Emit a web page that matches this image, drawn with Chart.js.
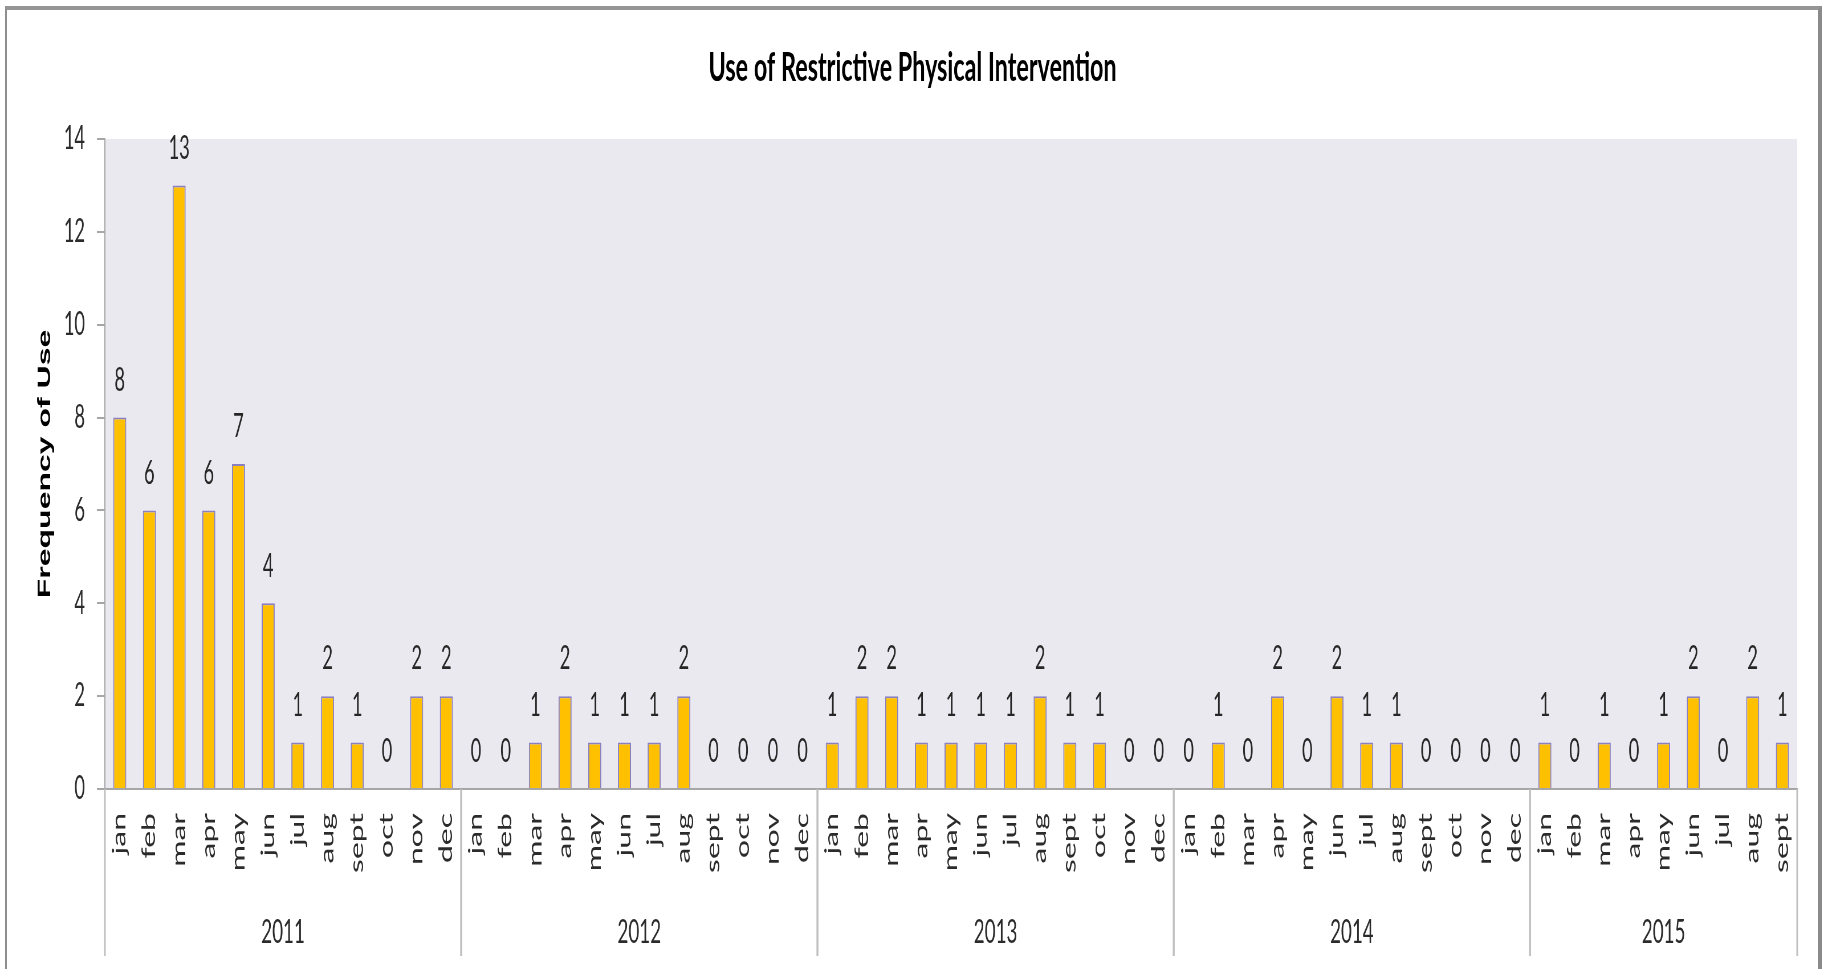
<!DOCTYPE html>
<html>
<head>
<meta charset="utf-8">
<title>Use of Restrictive Physical Intervention</title>
<script src="https://cdn.jsdelivr.net/npm/chart.js@4.4.1/dist/chart.umd.min.js"></script>
<style>
  html, body { margin: 0; padding: 0; background: #ffffff; overflow: hidden; }
  #wrap { position: relative; width: 1825px; height: 969px; overflow: hidden; }
  #c { position: absolute; left: 0; top: 0; transform-origin: 0 0; }
  #frame {
    position: absolute; left: 5px; top: 6px; width: 1817px; height: 975px;
    box-sizing: border-box;
    border-top: 4px solid #959595;
    border-left: 2px solid #8e8e8e;
    border-right: 4px solid #8a8a8a;
    pointer-events: none;
  }
</style>
</head>
<body>
<div id="wrap">
  <canvas id="c"></canvas>
  <div id="frame"></div>
</div>
<script>
// Monthly counts of restrictive physical intervention, Jan 2011 - Sept 2015
const monthNames = ['jan', 'feb', 'mar', 'apr', 'may', 'jun', 'jul', 'aug', 'sept', 'oct', 'nov', 'dec'];
const years = ['2011', '2012', '2013', '2014', '2015'];
const monthsPerYear = [12, 12, 12, 12, 9];

const uses2011 = [8, 6, 13, 6, 7, 4, 1, 2, 1, 0, 2, 2];
const uses2012 = [0, 0, 1, 2, 1, 1, 1, 2, 0, 0, 0, 0];
const uses2013 = [1, 2, 2, 1, 1, 1, 1, 2, 1, 1, 0, 0];
const uses2014 = [0, 1, 0, 2, 0, 2, 1, 1, 0, 0, 0, 0];
const uses2015 = [1, 0, 1, 0, 1, 2, 0, 2, 1];

const yMin = 0, yMax = 14, yStep = 2;

// Flatten into one category axis (month labels) and one value list
const monthLabels = [];
monthsPerYear.forEach(n => { for (let i = 0; i < n; i++) monthLabels.push(monthNames[i]); });
const values = [].concat(uses2011, uses2012, uses2013, uses2014, uses2015);

// The chart is laid out on a wider canvas and squeezed horizontally,
// which gives the narrow lettering of the original report.
const SQUEEZE = 0.57;
const H = 969;
const W = Math.round(1825 / SQUEEZE);
const canvas = document.getElementById('c');
canvas.width = W;
canvas.height = H;
canvas.style.width = W + 'px';
canvas.style.height = H + 'px';
canvas.style.transform = 'scaleX(' + SQUEEZE + ')';

const FONT = 'Lato';
const TEXT = '#2b2b2b';
const AXIS = '#a6a6a6';

// Plot-area fill
const plotBackground = {
  id: 'plotBackground',
  beforeDraw(chart) {
    const { ctx, chartArea: a } = chart;
    ctx.save();
    ctx.fillStyle = '#ffffff';
    ctx.fillRect(0, 0, chart.width, chart.height);
    ctx.fillStyle = '#ebe9f0';
    ctx.fillRect(a.left, a.top, a.right - a.left, a.bottom - a.top);
    ctx.restore();
  }
};

// Value printed above every bar
const valueLabels = {
  id: 'valueLabels',
  afterDatasetsDraw(chart) {
    const { ctx } = chart;
    const meta = chart.getDatasetMeta(0);
    const data = chart.data.datasets[0].data;
    ctx.save();
    ctx.font = '32px ' + FONT;
    ctx.fillStyle = '#262626';
    ctx.textAlign = 'center';
    ctx.textBaseline = 'middle';
    meta.data.forEach((bar, i) => {
      ctx.fillText(String(data[i]), bar.x, bar.y - 37);
    });
    ctx.restore();
  }
};

// Second level of the category axis: year groups with dividers
const yearGroups = {
  id: 'yearGroups',
  afterDraw(chart) {
    const { ctx, chartArea: a } = chart;
    const x = chart.scales.x;
    const half = (x.getPixelForValue(1) - x.getPixelForValue(0)) / 2;
    const lineBottom = 956;
    const textY = 932;
    ctx.save();
    ctx.strokeStyle = '#c0c0c0';
    ctx.lineWidth = 3;
    ctx.font = '33px ' + FONT;
    ctx.fillStyle = TEXT;
    ctx.textAlign = 'center';
    ctx.textBaseline = 'middle';
    let start = 0;
    years.forEach((yr, k) => {
      const end = start + monthsPerYear[k] - 1;
      const left = x.getPixelForValue(start) - half;
      const right = x.getPixelForValue(end) + half;
      [left, right].forEach(px => {
        ctx.beginPath();
        ctx.moveTo(px, a.bottom);
        ctx.lineTo(px, lineBottom);
        ctx.stroke();
      });
      ctx.fillText(yr, (left + right) / 2, textY);
      start = end + 1;
    });
    ctx.restore();
  }
};

new Chart(canvas, {
  type: 'bar',
  data: {
    labels: monthLabels,
    datasets: [{
      data: values,
      backgroundColor: '#ffc000',
      borderColor: '#8a80c0',
      borderWidth: 2,
      barPercentage: 0.44,
      categoryPercentage: 1.0
    }]
  },
  options: {
    responsive: false,
    animation: false,
    devicePixelRatio: 1,
    layout: { padding: { left: 0, right: 0, top: 0, bottom: 0 } },
    plugins: {
      legend: { display: false },
      tooltip: { enabled: false },
      title: {
        display: true,
        text: 'Use of Restrictive Physical Intervention',
        color: '#000000',
        font: { family: FONT, size: 41, weight: 'bold', lineHeight: 1.2 },
        padding: { top: 43, bottom: 46.8 }
      }
    },
    scales: {
      x: {
        grid: { display: true, drawOnChartArea: false, drawTicks: false, color: 'rgba(0,0,0,0)' },
        border: { display: true, color: AXIS, width: 2 },
        ticks: {
          autoSkip: false,
          minRotation: 90,
          maxRotation: 90,
          padding: 24,
          color: TEXT,
          font: { family: FONT, size: 32 }
        },
        afterFit(scale) { scale.height = 180; }
      },
      y: {
        min: yMin,
        max: yMax,
        ticks: {
          stepSize: yStep,
          padding: 21,
          color: TEXT,
          font: { family: FONT, size: 32 }
        },
        grid: { drawOnChartArea: false, drawTicks: true, tickLength: 14, color: AXIS, lineWidth: 2 },
        border: { display: true, color: AXIS, width: 2 },
        title: {
          display: true,
          text: 'Frequency of Use',
          color: '#000000',
          font: { family: 'Liberation Sans', size: 32, weight: 'bold', lineHeight: 1.2 },
          padding: { top: 60, bottom: 0 }
        },
        afterFit(scale) { scale.width = 184; }
      },
      // blank margin on the right of the plot area
      yRight: {
        position: 'right',
        display: true,
        min: yMin,
        max: yMax,
        ticks: { display: false },
        grid: { display: false },
        border: { display: false },
        afterFit(scale) { scale.width = 49; }
      }
    }
  },
  plugins: [plotBackground, valueLabels, yearGroups]
});
</script>
</body>
</html>
